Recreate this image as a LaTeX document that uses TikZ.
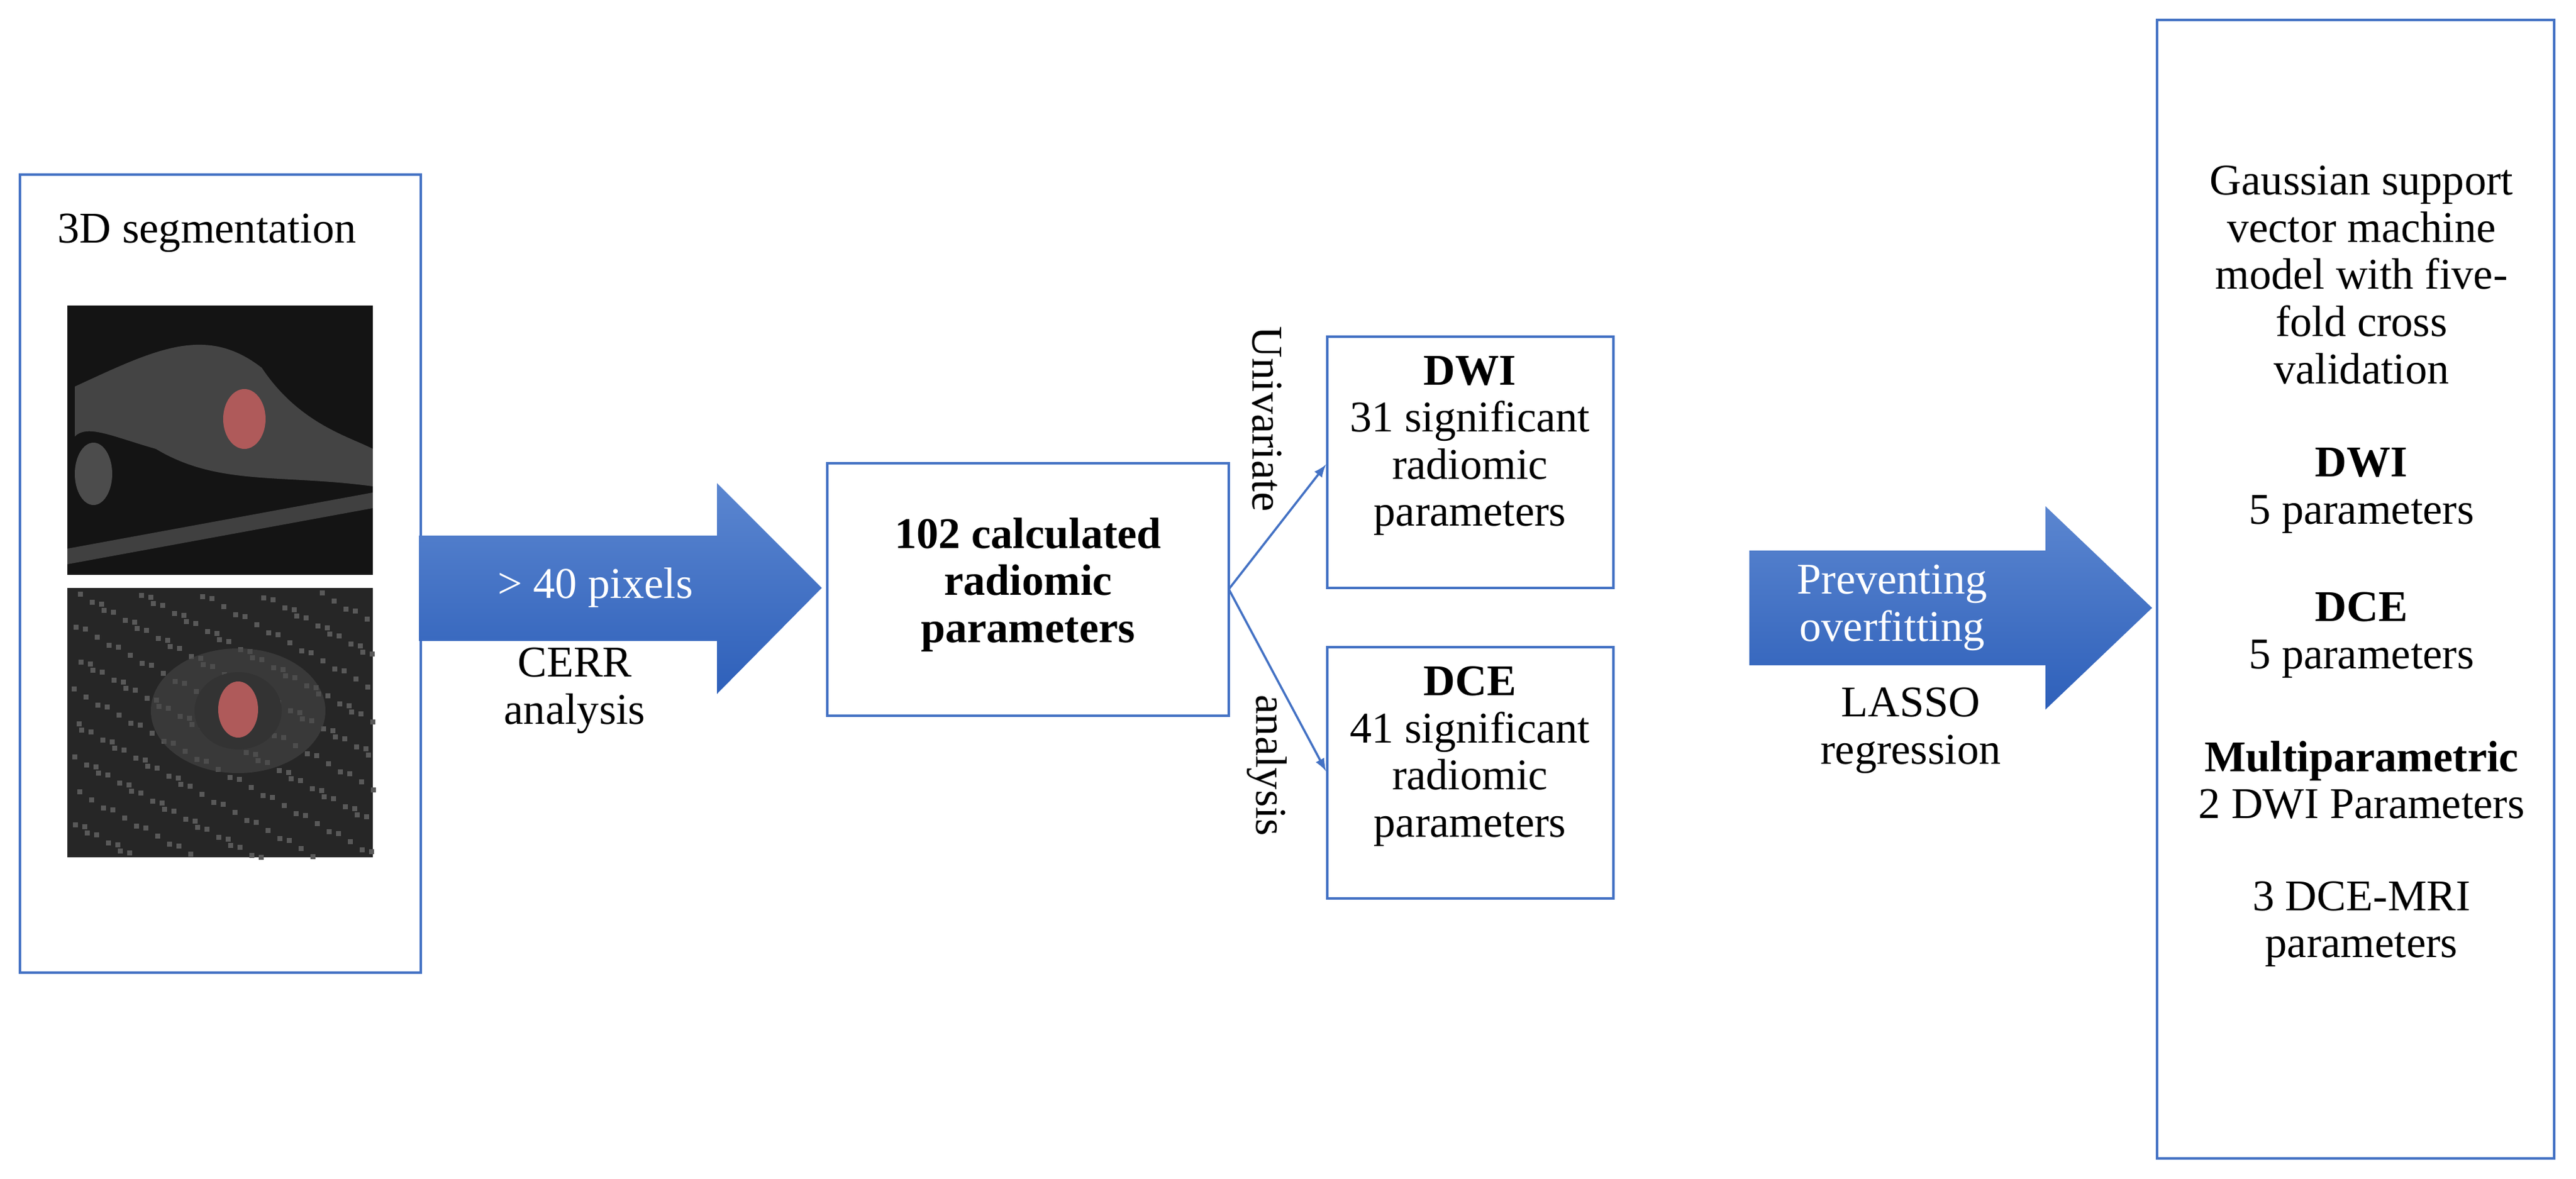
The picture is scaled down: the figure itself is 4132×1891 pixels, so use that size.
\documentclass[tikz,border=0pt]{standalone}
\usepackage{fontspec}
\setmainfont{Liberation Serif}
\usetikzlibrary{shapes.geometric}
\definecolor{bl}{HTML}{4472C4}
\definecolor{bltop}{HTML}{5B86D0}
\definecolor{blbot}{HTML}{2E60BA}
\definecolor{tum}{RGB}{175,90,90}
\begin{document}
\begin{tikzpicture}[x=0.01cm,y=-0.01cm,
  box/.style={draw=bl,line width=1.3pt},
  txt/.style={align=center,font=\fontsize{20}{21.5}\selectfont,inner sep=0pt},
  wtxt/.style={txt,text=white},
  big/.style={top color=bltop,bottom color=blbot,draw=none},
  conn/.style={draw=bl,line width=1pt,-latex}]
\useasboundingbox (0,0) rectangle (4132,1891);
% left box
\draw[box] (32,280) rectangle (675,1560);
\node[txt] (seg) at (332,374) {3D segmentation};
% images
\fill[black!92] (108,490) rectangle (598,922);
\fill[gray!70!black,opacity=0.7] (120,620) .. controls (250,560) and (330,520) .. (420,590) .. controls (480,680) and (560,700) .. (598,720) -- (598,780) .. controls (450,760) and (350,780) .. (250,720) .. controls (180,700) and (140,680) .. (120,700) -- cycle;
\fill[gray!50!black] (108,880) -- (598,790) -- (598,815) -- (108,905) -- cycle;
\fill[gray!60!black] (150,760) ellipse (30 and 50);
\fill[tum] (392,672) ellipse (34 and 48);
\fill[black!85] (108,943) rectangle (598,1375);
\foreach \i in {1,...,260} {
  \pgfmathsetmacro{\xx}{110+mod(\i*53,486)}
  \pgfmathsetmacro{\yy}{946+mod(\i*29,426)}
  \fill[gray!70!black] (\xx,\yy) rectangle ++(8,8);
}
\fill[gray!55!black,opacity=0.6] (382,1140) ellipse (140 and 100);
\fill[black!80] (382,1140) ellipse (70 and 62);
\fill[tum] (382,1138) ellipse (32 and 45);
% arrow 1
\path[big] (672,859) -- (1150,859) -- (1150,775) -- (1318,943) -- (1150,1113) -- (1150,1028) -- (672,1028) -- cycle;
\node[wtxt] (px) at (955,943) {> 40 pixels};
\node[txt] (cerr) at (922,1108) {CERR\\analysis};
% middle
\draw[box] (1327,743) rectangle (1971,1148);
\node[txt,font=\fontsize{20}{21.5}\selectfont\bfseries] (calc) at (1649,938) {102 calculated\\radiomic\\parameters};
\coordinate (mo) at (1971,945);
% DWI / DCE boxes
\draw[box] (2129,540) rectangle (2588,943);
\node[txt] (dwi) at (2358,715) {\textbf{DWI}\\31 significant\\radiomic\\parameters};
\draw[box] (2129,1038) rectangle (2588,1441);
\node[txt] (dce) at (2358,1213) {\textbf{DCE}\\41 significant\\radiomic\\parameters};
\coordinate (dwiin) at (2127,745);
\coordinate (dcein) at (2127,1237);
\draw[conn] (mo) -- (dwiin);
\draw[conn] (mo) -- (dcein);
\node[txt,rotate=-90] (uni) at (2032,672) {Univariate};
\node[txt,rotate=-90] (ana) at (2032,1228) {analysis};
% arrow 2
\path[big] (2806,883) -- (3281,883) -- (3281,812) -- (3452,975) -- (3281,1138) -- (3281,1067) -- (2806,1067) -- cycle;
\node[wtxt] (prev) at (3035,975) {Preventing\\overfitting};
\node[txt] (lasso) at (3065,1172) {LASSO\\regression};
% right box
\draw[box] (3460,32) rectangle (4097,1858);
\node[txt] (svm) at (3788,441) {Gaussian support\\vector machine\\model with five-\\fold cross\\validation};
\node[txt] (r1) at (3788,787) {\textbf{DWI}\\5 parameters};
\node[txt] (r2) at (3788,1019) {\textbf{DCE}\\5 parameters};
\node[txt] (r3) at (3788,1251) {\textbf{Multiparametric}\\2 DWI Parameters};
\node[txt] (r4) at (3788,1482) {3 DCE-MRI\\parameters};
\end{tikzpicture}
\end{document}
